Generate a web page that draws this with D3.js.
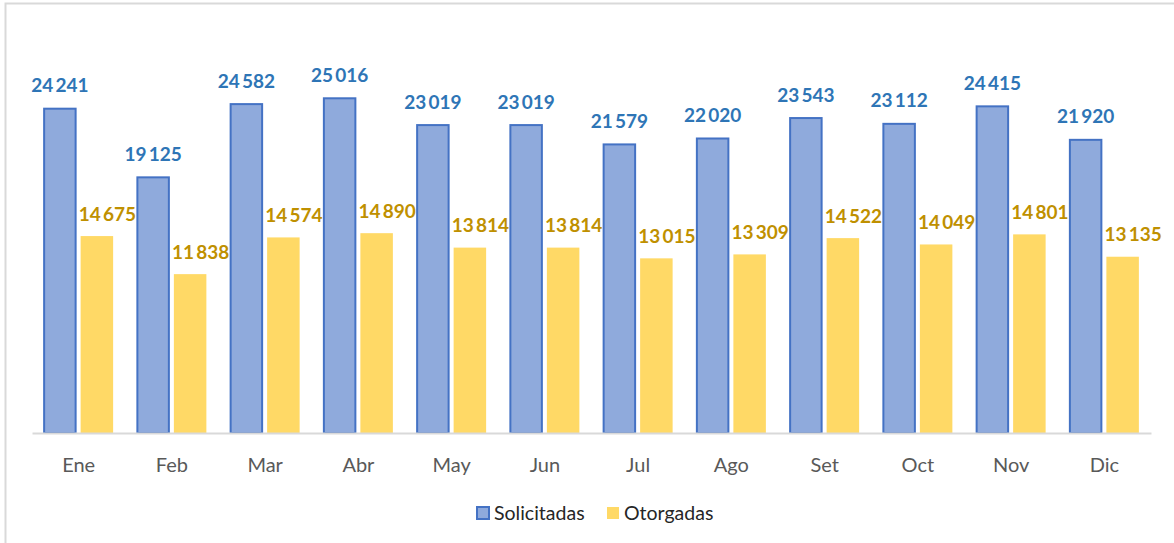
<!DOCTYPE html>
<html>
<head>
<meta charset="utf-8">
<script src="https://cdn.jsdelivr.net/npm/d3@7"></script>
<style>
  html, body { margin: 0; padding: 0; background: #fff; }
  svg { display: block; font-family: Lato, "Open Sans", sans-serif; }
</style>
</head>
<body>
<script>
const months = ["Ene","Feb","Mar","Abr","May","Jun","Jul","Ago","Set","Oct","Nov","Dic"];
const solicitadas = [24241,19125,24582,25016,23019,23019,21579,22020,23543,23112,24415,21920];
const otorgadas   = [14675,11838,14574,14890,13814,13814,13015,13309,14522,14049,14801,13135];
const seriesNames = ["Solicitadas","Otorgadas"];

const W = 1174, H = 543;
const svg = d3.select("body").append("svg").attr("width", W).attr("height", H);

// outer chart border (partially visible)
svg.append("rect").attr("x", 5.5).attr("y", 3.5).attr("width", W + 10).attr("height", H + 10)
  .attr("fill", "none").attr("stroke", "#d9d9d9").attr("stroke-width", 2);

const x0 = d3.scaleBand().domain(months).range([32, 1151]).paddingInner(0).paddingOuter(0);
const y = d3.scaleLinear().domain([0, 30000]).range([433, 30.4]);

const barW = 33.5, gap = 4;
const fmt = v => d3.format(",")(v).replace(/,/g, "\u2009");

const g = svg.append("g");
months.forEach((m, i) => {
  const c = x0(m) + x0.bandwidth() / 2;
  const vs = solicitadas[i];
  g.append("rect")
    .attr("x", c - gap / 2 - barW + 1).attr("y", y(vs) + 1)
    .attr("width", barW - 2).attr("height", y(0) - y(vs) - 1)
    .attr("fill", "#8faadc").attr("stroke", "#4472c4").attr("stroke-width", 2);
  const vo = otorgadas[i];
  g.append("rect")
    .attr("x", c + gap / 2).attr("y", y(vo))
    .attr("width", barW - 1).attr("height", y(0) - y(vo))
    .attr("fill", "#ffd966");
});

// axis baseline
const xAxis = svg.append("g").attr("transform", `translate(0,${y(0)})`)
  .call(d3.axisBottom(x0).tickSize(0).tickPadding(0));
xAxis.select(".domain").attr("stroke", "#d9d9d9").attr("stroke-width", 2);
xAxis.selectAll(".tick text")
  .attr("y", 39).attr("dy", null)
  .attr("fill", "#595959").style("font-size", "20px").style("font-family", "Lato, sans-serif");

// labels
months.forEach((m, i) => {
  const c = x0(m) + x0.bandwidth() / 2;
  svg.append("text")
    .attr("x", c - gap / 2 - barW / 2).attr("y", y(solicitadas[i]) - 15.5)
    .attr("text-anchor", "middle").attr("fill", "#2e75b6")
    .style("font-size", "19px").style("font-weight", "bold")
    .text(fmt(solicitadas[i]));
  svg.append("text")
    .attr("x", c + gap / 2 - 2).attr("y", y(otorgadas[i]) - 15.5)
    .attr("text-anchor", "start").attr("fill", "#bf9000")
    .style("font-size", "19px").style("font-weight", "bold")
    .text(fmt(otorgadas[i]));
});

// legend
const legend = svg.append("g");
legend.append("rect").attr("x", 477).attr("y", 507).attr("width", 12).attr("height", 12)
  .attr("fill", "#8faadc").attr("stroke", "#4472c4").attr("stroke-width", 2);
legend.append("text").attr("x", 494).attr("y", 519.5).attr("fill", "#262626")
  .style("font-size", "19.5px").text(seriesNames[0]);
legend.append("rect").attr("x", 607).attr("y", 507).attr("width", 12).attr("height", 12)
  .attr("fill", "#ffd966");
legend.append("text").attr("x", 624).attr("y", 519.5).attr("fill", "#262626")
  .style("font-size", "19.5px").text(seriesNames[1]);
</script>
</body>
</html>
